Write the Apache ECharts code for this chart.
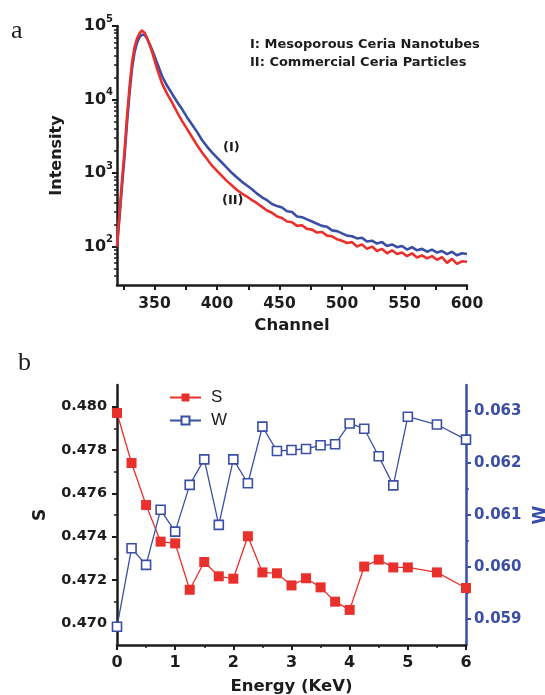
<!DOCTYPE html>
<html>
<head>
<meta charset="utf-8">
<script src="https://cdn.jsdelivr.net/npm/echarts@6/dist/echarts.min.js"></script>
<style>
html, body { margin: 0; padding: 0; background: #fff; }
#main { width: 545px; height: 695px; }
</style>
</head>
<body>
<div id="main"></div>
<script>
// ---- panel a : positron lifetime spectra ----
var channels = [320, 322, 324, 326, 328, 330, 332, 334, 336, 338, 340, 342, 344, 346,
  348, 352, 356, 360, 364, 368, 372, 376, 380, 384, 388, 392, 396, 400, 404, 408,
  412, 416, 420, 424, 428, 432, 436, 440, 444, 448, 452, 456, 460, 464, 468, 472,
  476, 480, 484, 488, 492, 496, 500, 504, 508, 512, 516, 520, 524, 528, 532, 536,
  540, 544, 548, 552, 556, 560, 564, 568, 572, 576, 580, 584, 588, 592, 596, 600];

// (I) mesoporous ceria nanotubes
var intensityI = [100, 251, 661, 1660, 4786, 12020, 26300, 43650, 58880, 70790, 75860, 75860, 67610, 57540,
  47860, 31620, 20890, 15490, 12020, 9333, 7413, 5754, 4571, 3631, 2818, 2291, 1905, 1622, 1380, 1175,
  1000, 871, 759, 676, 603, 525, 468, 427, 380, 355, 339, 302, 295, 257, 251, 234,
  219, 204, 191, 186, 166, 162, 151, 141, 138, 129, 132, 117, 120, 110, 115, 102,
  107, 98, 102, 91, 98, 89, 93, 85, 91, 83, 87, 79, 85, 76, 81, 79];

// (II) commercial ceria particles
var intensityII = [100, 282, 794, 1995, 5888, 14790, 31620, 51290, 67610, 79430, 87100, 81280, 69180, 56230,
  44670, 26300, 16600, 12020, 9120, 6761, 5129, 3981, 3090, 2399, 1905, 1549, 1259, 1072, 912, 776,
  676, 589, 525, 479, 427, 389, 347, 309, 288, 257, 245, 219, 214, 191, 195, 174,
  170, 155, 158, 141, 138, 126, 120, 112, 115, 100, 107, 93, 100, 87, 93, 81,
  89, 79, 83, 74, 81, 71, 76, 69, 74, 66, 72, 60, 68, 58, 63, 62];

var channelTicks = [325, 350, 375, 400, 425, 450, 475, 500, 525, 550, 575, 600];
var channelLabels = [350, 400, 450, 500, 550, 600];
var intensityMajor = [100, 1000, 10000, 100000];
var intensityMinor = [40, 50, 60, 70, 80, 90, 200, 300, 400, 500, 600, 700, 800, 900,
  2000, 3000, 4000, 5000, 6000, 7000, 8000, 9000, 20000, 30000, 40000, 50000, 60000, 70000, 80000, 90000];

// ---- panel b : S and W parameters vs positron energy ----
var energy = [0, 0.25, 0.5, 0.75, 1, 1.25, 1.5, 1.75, 2, 2.25, 2.5, 2.75, 3, 3.25, 3.5, 3.75, 4, 4.25, 4.5, 4.75, 5, 5.5, 6];
var sValues = [0.47971, 0.47740, 0.47546, 0.47377, 0.47369, 0.47155, 0.47283, 0.47217, 0.47206, 0.47402, 0.47235, 0.47231,
  0.47175, 0.47208, 0.47166, 0.47100, 0.47062, 0.47262, 0.47294, 0.47258, 0.47258, 0.47235, 0.47163];
var wValues = [0.05885, 0.06036, 0.06004, 0.06110, 0.06068, 0.06158, 0.06207, 0.06081, 0.06207, 0.06161, 0.06270, 0.06223,
  0.06225, 0.06227, 0.06234, 0.06236, 0.06276, 0.06266, 0.06213, 0.06157, 0.06289, 0.06274, 0.06245];

var sMajor = [0.470, 0.472, 0.474, 0.476, 0.478, 0.480];
var sMinor = [0.471, 0.473, 0.475, 0.477, 0.479];
var wMajor = [0.059, 0.060, 0.061, 0.062, 0.063];
var wMinor = [0.0595, 0.0605, 0.0615, 0.0625];

var BLUE = '#3b4ea6';
var RED = '#e8302d';
var INK = '#1c1c1c';
var BOLD = '"DejaVu Sans", sans-serif';

function pairs(xs, ys) {
  return xs.map(function (x, i) { return [x, ys[i]]; });
}

var chart = echarts.init(document.getElementById('main'), null, { renderer: 'canvas' });

var tickLabel = { color: INK, fontFamily: BOLD, fontWeight: 'bold' };

var option = {
  backgroundColor: '#fff',
  animation: false,
  grid: [
    { left: 117, right: 78, top: 26, bottom: 410, outerBoundsMode: 'none' },
    { left: 117, right: 79, top: 385, bottom: 50, outerBoundsMode: 'none' }
  ],
  legend: {
    data: ['S', 'W'],
    orient: 'vertical',
    left: 169,
    top: 389,
    padding: 0,
    itemWidth: 31,
    itemHeight: 10,
    itemGap: 6,
    textStyle: { fontFamily: '"Liberation Sans", Arial, sans-serif', fontSize: 17, color: INK, padding: [0, 0, 0, 5] }
  },
  xAxis: [
    {
      type: 'value', gridIndex: 0, min: 320, max: 600,
      axisLine: { onZero: false, lineStyle: { color: INK, width: 2.5 } },
      axisTick: { customValues: channelTicks, length: 5, lineStyle: { width: 2, color: INK } },
      axisLabel: Object.assign({ customValues: channelLabels, fontSize: 15.5, margin: 11 }, tickLabel),
      splitLine: { show: false },
      name: 'Channel', nameLocation: 'middle', nameGap: 32,
      nameTextStyle: { color: INK, fontFamily: BOLD, fontWeight: 'bold', fontSize: 16.5 }
    },
    {
      type: 'value', gridIndex: 1, min: 0, max: 6, interval: 1,
      axisLine: { onZero: false, lineStyle: { color: INK, width: 2.5 } },
      axisTick: { length: 5, lineStyle: { width: 2, color: INK } },
      minorTick: { show: true, splitNumber: 2, length: 3, lineStyle: { width: 1.5, color: INK } },
      axisLabel: Object.assign({ fontSize: 16, margin: 10 }, tickLabel),
      splitLine: { show: false },
      name: 'Energy (KeV)', nameLocation: 'middle', nameGap: 33,
      nameTextStyle: { color: INK, fontFamily: BOLD, fontWeight: 'bold', fontSize: 16.5 }
    }
  ],
  yAxis: [
    {
      type: 'log', gridIndex: 0, min: 30, max: 100000, position: 'left',
      axisLine: { show: true, lineStyle: { color: INK, width: 2.5 } },
      axisTick: { show: true, customValues: intensityMajor, length: 5, lineStyle: { width: 2, color: INK } },
      axisLabel: {
        customValues: intensityMajor, margin: 4,
        formatter: function (v) { return '{b|10}{s|' + Math.round(Math.log10(v)) + '}'; },
        rich: {
          b: { fontFamily: BOLD, fontWeight: 'bold', fontSize: 16, color: INK, lineHeight: 24 },
          s: { fontFamily: BOLD, fontWeight: 'bold', fontSize: 10, color: INK, verticalAlign: 'top', lineHeight: 10 }
        }
      },
      splitLine: { show: false },
      name: 'Intensity', nameLocation: 'middle', nameGap: 52,
      nameTextStyle: { color: INK, fontFamily: BOLD, fontWeight: 'bold', fontSize: 16 }
    },
    {
      type: 'log', gridIndex: 0, min: 30, max: 100000, position: 'left',
      axisLine: { show: false },
      axisTick: { show: true, customValues: intensityMinor, length: 3, lineStyle: { width: 1.5, color: INK } },
      axisLabel: { show: false },
      splitLine: { show: false }
    },
    {
      type: 'value', gridIndex: 1, min: 0.469, max: 0.481, position: 'left',
      axisLine: { show: true, onZero: false, lineStyle: { color: INK, width: 2.5 } },
      axisTick: { show: true, customValues: sMajor, length: 5, lineStyle: { width: 2, color: INK } },
      axisLabel: Object.assign({
        customValues: sMajor, fontSize: 14.5, margin: 10,
        formatter: function (v) { return v.toFixed(3); }
      }, tickLabel),
      splitLine: { show: false },
      name: 'S', nameLocation: 'middle', nameGap: 68,
      nameTextStyle: { color: INK, fontFamily: BOLD, fontWeight: 'bold', fontSize: 17 }
    },
    {
      type: 'value', gridIndex: 1, min: 0.469, max: 0.481, position: 'left',
      axisLine: { show: false },
      axisTick: { show: true, customValues: sMinor, length: 3, lineStyle: { width: 1.5, color: INK } },
      axisLabel: { show: false },
      splitLine: { show: false }
    },
    {
      type: 'value', gridIndex: 1, min: 0.0585, max: 0.0635, position: 'right',
      axisLine: { show: true, onZero: false, lineStyle: { color: BLUE, width: 2.5 } },
      axisTick: { show: true, customValues: wMajor, length: 5, lineStyle: { width: 2, color: BLUE } },
      axisLabel: {
        customValues: wMajor, fontSize: 15, margin: 8, color: BLUE,
        fontFamily: BOLD, fontWeight: 'bold',
        formatter: function (v) { return v.toFixed(3); }
      },
      splitLine: { show: false },
      name: 'W', nameLocation: 'middle', nameGap: 66,
      nameTextStyle: { color: BLUE, fontFamily: BOLD, fontWeight: 'bold', fontSize: 17 }
    },
    {
      type: 'value', gridIndex: 1, min: 0.0585, max: 0.0635, position: 'right',
      axisLine: { show: false },
      axisTick: { show: true, customValues: wMinor, length: 3, lineStyle: { width: 1.5, color: BLUE } },
      axisLabel: { show: false },
      splitLine: { show: false }
    }
  ],
  series: [
    {
      name: '(I)', type: 'line', xAxisIndex: 0, yAxisIndex: 0,
      data: pairs(channels, intensityI),
      showSymbol: false, symbol: 'none',
      lineStyle: { color: BLUE, width: 2.6 }
    },
    {
      name: '(II)', type: 'line', xAxisIndex: 0, yAxisIndex: 0,
      data: pairs(channels, intensityII),
      showSymbol: false, symbol: 'none',
      lineStyle: { color: RED, width: 2.6 }
    },
    {
      name: 'S', type: 'line', xAxisIndex: 1, yAxisIndex: 2,
      data: pairs(energy, sValues),
      symbol: 'rect', symbolSize: 10,
      itemStyle: { color: RED },
      lineStyle: { color: RED, width: 1.3 }
    },
    {
      name: 'W', type: 'line', xAxisIndex: 1, yAxisIndex: 4,
      data: pairs(energy, wValues),
      symbol: 'rect', symbolSize: 9,
      itemStyle: { color: '#fff', borderColor: BLUE, borderWidth: 1.6 },
      lineStyle: { color: BLUE, width: 1.3 }
    }
  ],
  graphic: [
    { type: 'text', left: 11, top: 18, style: { text: 'a', font: '26px "Liberation Serif", serif', fill: INK } },
    { type: 'text', left: 18, top: 350, style: { text: 'b', font: '26px "Liberation Serif", serif', fill: INK } },
    { type: 'text', left: 250, top: 38, style: { text: 'I: Mesoporous Ceria Nanotubes', font: 'bold 13px "DejaVu Sans"', fill: INK } },
    { type: 'text', left: 250, top: 56, style: { text: 'II: Commercial Ceria Particles', font: 'bold 13px "DejaVu Sans"', fill: INK } },
    { type: 'text', left: 223, top: 141, style: { text: '(I)', font: 'bold 13px "DejaVu Sans"', fill: INK } },
    { type: 'text', left: 222, top: 194, style: { text: '(II)', font: 'bold 13px "DejaVu Sans"', fill: INK } }
  ]
};

chart.setOption(option);
</script>
</body>
</html>
